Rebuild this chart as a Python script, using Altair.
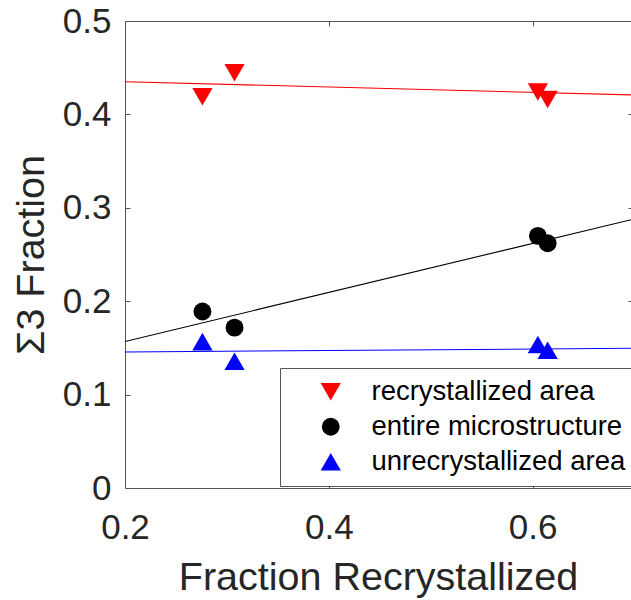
import altair as alt
import pandas as pd

# ---------------- data ----------------
series_names = ["recrystallized area", "entire microstructure", "unrecrystallized area"]
series_colors = ["#ff0000", "#000000", "#0000ff"]
series_shapes = ["triangle-down", "circle", "triangle-up"]
series_sizes = [410, 320, 410]

frac_recrystallized = [0.276, 0.3075, 0.6052, 0.6148]
sigma3_recrystallized = [0.419, 0.4445, 0.424, 0.416]
sigma3_entire = [0.189, 0.1717, 0.270, 0.262]
sigma3_unrecrystallized = [0.1567, 0.1357, 0.1537, 0.1475]

fit_x = [0.2, 0.7]
fit_recrystallized = [0.435, 0.4208]
fit_entire = [0.1569, 0.2881]
fit_unrecrystallized = [0.1456, 0.1496]

x_ticks = [0.2, 0.4, 0.6]
y_ticks = [0, 0.1, 0.2, 0.3, 0.4, 0.5]

# ---------------- tables ----------------
pts_rows = []
for name, vals in zip(series_names, [sigma3_recrystallized, sigma3_entire, sigma3_unrecrystallized]):
    for xv, yv in zip(frac_recrystallized, vals):
        pts_rows.append({"x": xv, "y": yv, "series": name})
pts = pd.DataFrame(pts_rows)

fit_rows = []
for name, vals in zip(series_names, [fit_recrystallized, fit_entire, fit_unrecrystallized]):
    for xv, yv in zip(fit_x, vals):
        fit_rows.append({"x": xv, "y": yv, "series": name})
fits = pd.DataFrame(fit_rows)

# ---------------- style ----------------
FONT = "Liberation Sans"
AX = "#555555"
TXT = "#262626"

x_scale = alt.Scale(domain=[0.2, 0.6966], nice=False, zero=False)
y_scale = alt.Scale(domain=[0, 0.5], nice=False, zero=False)

legend = alt.Legend(
    title=None, orient="none", legendX=155, legendY=347, direction="vertical",
    fillColor="white", strokeColor=AX, padding=10,
    labelFont=FONT, labelFontSize=27.5, labelColor="black", labelLimit=500,
    symbolOffset=27, labelOffset=27, rowPadding=6,
)

x_main = alt.Axis(
    values=x_ticks, format=".1f", orient="bottom", grid=False,
    ticks=False, tickSize=0, domain=True, domainColor=AX, domainWidth=1,
    labelFont=FONT, labelFontSize=35, labelColor=TXT, labelPadding=50,
    labelBaseline="alphabetic", labelFlush=False,
    title="Fraction Recrystallized", titleFont=FONT, titleFontSize=39.5,
    titleFontWeight="normal", titleColor=TXT, titleBaseline="alphabetic",
    titleY=101,
)
y_main = alt.Axis(
    values=y_ticks, format=".1~f", orient="left", grid=False,
    ticks=False, tickSize=0, domain=True, domainColor=AX, domainWidth=1,
    labelFont=FONT, labelFontSize=35, labelColor=TXT, labelPadding=14,
    labelFlush=False,
    title="Σ3 Fraction", titleFont=FONT, titleFontSize=39.5,
    titleFontWeight="normal", titleColor=TXT, titleBaseline="alphabetic",
    titleX=-82, titleY=233.5,
)


def tick_axis(orient, values, offset, size, domain=False):
    return alt.Axis(
        values=values, orient=orient, offset=offset, tickSize=size,
        ticks=size > 0, tickColor=AX, tickWidth=1, labels=False,
        domain=domain, domainColor=AX, domainWidth=1, grid=False, title=None,
    )


points = alt.Chart(pts).mark_point(filled=True, opacity=1).encode(
    x=alt.X("x:Q", scale=x_scale, axis=x_main),
    y=alt.Y("y:Q", scale=y_scale, axis=y_main),
    color=alt.Color("series:N", scale=alt.Scale(domain=series_names, range=series_colors), legend=legend),
    shape=alt.Shape("series:N", scale=alt.Scale(domain=series_names, range=series_shapes), legend=legend),
    size=alt.Size("series:N", scale=alt.Scale(type="ordinal", domain=series_names, range=series_sizes), legend=legend),
)

line_layers = []
for i, (name, col) in enumerate(zip(series_names, series_colors)):
    if i == 0:
        xa = tick_axis("top", x_ticks, 0, 0, domain=True)
        ya = tick_axis("right", y_ticks, -3, 3)
    elif i == 1:
        xa = tick_axis("bottom", x_ticks, -5, 5)
        ya = tick_axis("left", y_ticks, -5, 5)
    else:
        xa = tick_axis("top", x_ticks, -5, 5)
        ya = None
    line_layers.append(
        alt.Chart(fits).transform_filter(alt.datum.series == name)
        .mark_line(clip=True, strokeWidth=1.1, color=col)
        .encode(
            x=alt.X("x:Q", scale=x_scale, axis=xa),
            y=alt.Y("y:Q", scale=y_scale, axis=ya),
        )
    )

chart = (
    alt.layer(*line_layers, points)
    .resolve_axis(x="independent", y="independent")
    .properties(
        width=506, height=467,
        padding={"left": 125, "top": 21, "right": 0, "bottom": 112},
        autosize=alt.AutoSizeParams(type="none"),
        background="white",
    )
    .configure_view(stroke=None)
)

chart.save("out.html", embed_options={"renderer": "svg", "actions": False})
